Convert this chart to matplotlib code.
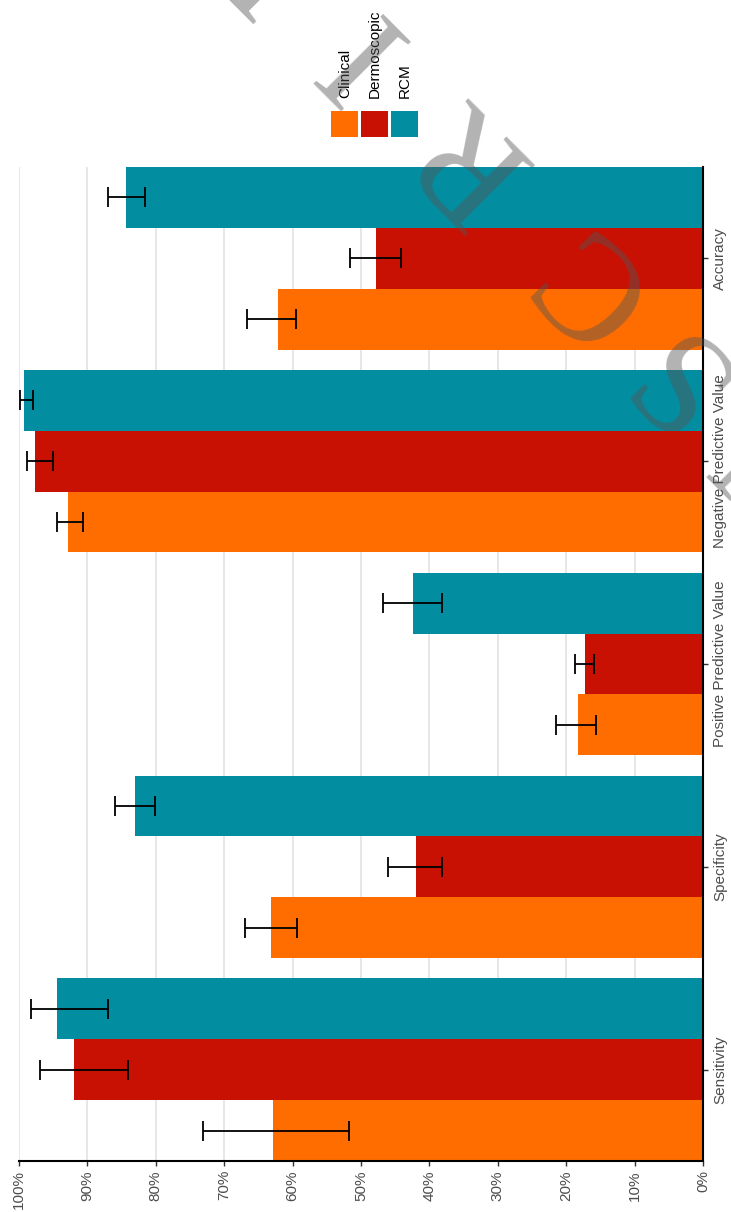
import numpy as np
import matplotlib
matplotlib.use("Agg")
import matplotlib.pyplot as plt
from matplotlib.patches import Rectangle

plt.rcParams['font.family'] = ['Liberation Sans', 'DejaVu Sans']

# categories (bottom -> top in the rotated picture)
categories = ["Sensitivity", "Specificity", "Positive Predictive Value",
              "Negative Predictive Value", "Accuracy"]
series_names = ["Clinical", "Dermoscopic", "RCM"]
series_colors = ["#FF6D00", "#C81102", "#038DA1"]

clinical = [62.9, 63.2, 18.3, 92.8, 62.1]
clinical_lo = [51.7, 59.3, 15.6, 90.7, 59.5]
clinical_hi = [73.1, 66.9, 21.5, 94.5, 66.7]

dermoscopic = [91.9, 42.0, 17.3, 97.7, 47.8]
dermoscopic_lo = [84.0, 38.1, 16.0, 95.1, 44.2]
dermoscopic_hi = [96.9, 46.0, 18.7, 98.9, 51.6]

rcm = [94.4, 83.1, 42.4, 99.2, 84.4]
rcm_lo = [87.0, 80.1, 38.2, 97.9, 81.6]
rcm_hi = [98.2, 85.9, 46.8, 99.8, 87.0]

x_ticks = list(range(0, 101, 10))
x_tick_labels = [f"{t}%" for t in x_ticks]

watermark = "A  C  C  E  P  T  E  D    M  A  N  U S C  R  I  P  T"

values = [clinical, dermoscopic, rcm]
lows = [clinical_lo, dermoscopic_lo, rcm_lo]
highs = [clinical_hi, dermoscopic_hi, rcm_hi]

W, H = 731, 1212
fig = plt.figure(figsize=(W / 100, H / 100), dpi=100)
ax = fig.add_axes([19 / W, 1 - 1161 / H, (703 - 19) / W, (1161 - 167) / H])

pos = np.arange(len(categories))
bw = 0.3
for j, (vals, lo, hi) in enumerate(zip(values, lows, highs)):
    y = pos + (j - 1) * bw
    vals = np.array(vals)
    ax.barh(y, vals, height=bw, color=series_colors[j], zorder=2)
    xerr = [vals - np.array(lo), np.array(hi) - vals]
    ax.errorbar(vals, y, xerr=xerr, fmt='none', ecolor='black',
                elinewidth=1.3, capsize=7, capthick=1.3, zorder=3)

ax.set_xlim(100, 0)
ax.set_ylim(-0.45, len(categories) - 0.55)
ax.set_xticks(x_ticks)
ax.set_xticklabels(x_tick_labels, rotation=90, fontsize=11, color='#4d4d4d')
ax.yaxis.tick_right()
ax.set_yticks(pos)
ax.set_yticklabels(categories, rotation=90, va='center', ha='left',
                   fontsize=11, color='#4d4d4d')
ax.tick_params(axis='both', length=3.5, width=1, color='#333333')
ax.tick_params(axis='x', pad=3)
ax.tick_params(axis='y', pad=4)

ax.grid(axis='x', color='#e3e3e3', linewidth=1.2, zorder=0)
ax.set_axisbelow(True)
for s in ['top', 'left']:
    ax.spines[s].set_visible(False)
ax.spines['right'].set_linewidth(1.5)
ax.spines['bottom'].set_linewidth(1.5)

# legend (drawn rotated, like the rest of the chart)
sq_x = [331, 361, 391]
for j, name in enumerate(series_names):
    fig.add_artist(Rectangle((sq_x[j] / W, 1 - 137 / H), 27 / W, 26 / H,
                             transform=fig.transFigure,
                             facecolor=series_colors[j], edgecolor='none'))
    fig.text((sq_x[j] + 14) / W, 1 - 98 / H, name, rotation=90,
             ha='center', va='bottom', fontsize=11, color='black')

# watermark, running diagonally across the top right
fig.text(131 / W, 1 + 190 / H, watermark, rotation=135,
         rotation_mode='anchor', ha='right', va='center',
         fontsize=108, family=['Liberation Serif', 'DejaVu Serif'],
         color='#555555', alpha=0.45, zorder=10)

fig.savefig("out.png", dpi=100)
